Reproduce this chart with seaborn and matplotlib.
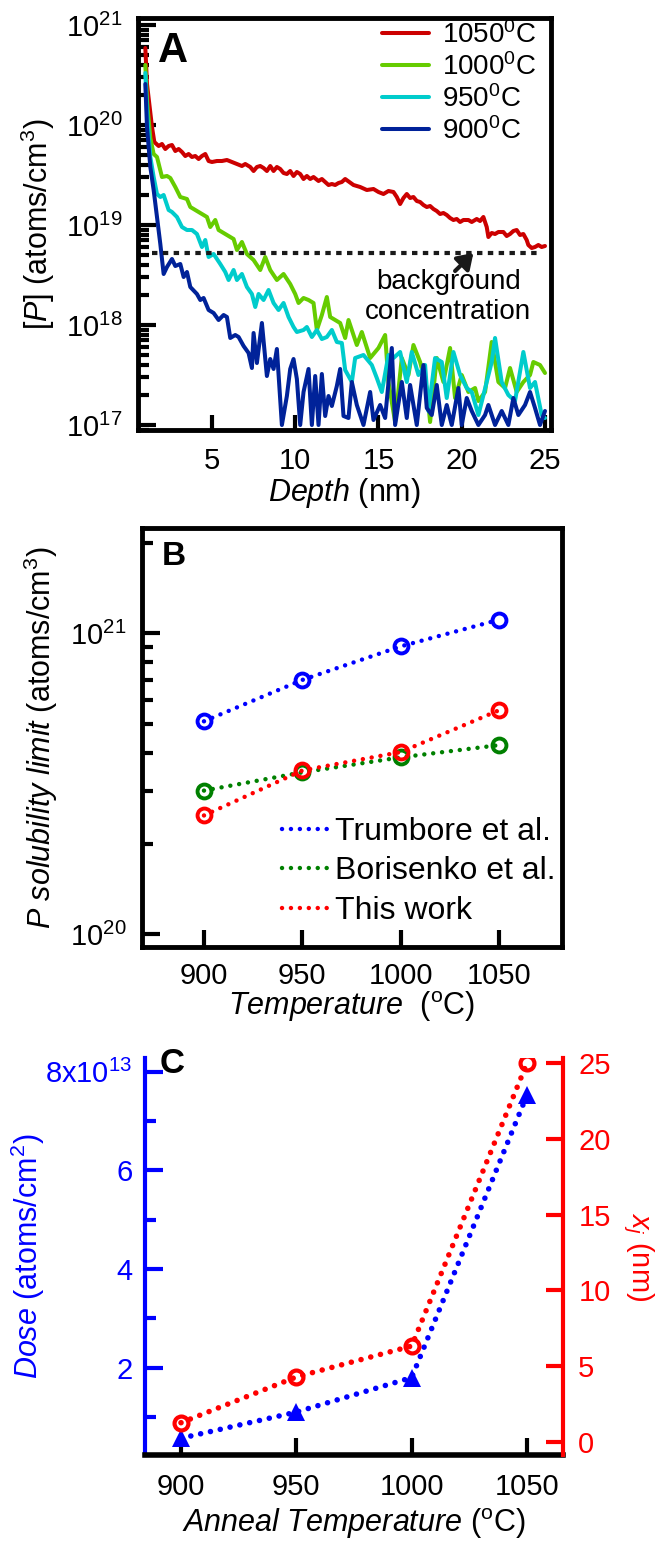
import matplotlib
matplotlib.use('Agg')
import matplotlib.pyplot as plt
from matplotlib.ticker import LogLocator, NullFormatter, NullLocator, FixedLocator, FixedFormatter
import seaborn as sns
import numpy as np

sns.set_theme(style='ticks')
plt.rcParams['font.family'] = ['Liberation Sans', 'DejaVu Sans']
plt.rcParams['mathtext.fontset'] = 'custom'
plt.rcParams['mathtext.rm'] = 'Liberation Sans'
plt.rcParams['mathtext.it'] = 'Liberation Sans:italic'
plt.rcParams['mathtext.bf'] = 'Liberation Sans:bold'
for key in ['text.color', 'axes.labelcolor', 'xtick.color', 'ytick.color', 'axes.edgecolor']:
    plt.rcParams[key] = 'black'

# ---- panel A: SIMS profiles, log10 of [P] (atoms/cm^3) vs depth (nm)
depth_1050 = [1.0, 1.1, 1.4, 1.54, 1.8, 2.0, 2.2, 2.4, 2.6, 2.8, 3.0, 3.2, 3.4, 3.6, 3.8, 4.0, 4.2,
              4.4, 4.6, 4.8, 5.0, 5.3, 5.6, 5.9, 6.2, 6.5, 6.8, 7.0, 7.3, 7.5, 7.7, 7.9, 8.1, 8.3,
              8.5, 8.7, 8.9, 9.1, 9.3, 9.5, 9.7, 9.9, 10.1, 10.3, 10.5, 10.7, 10.9, 11.1, 11.4,
              11.6, 11.8, 12.0, 12.2, 12.4, 12.6, 12.8, 13.0, 13.5, 13.9, 14.3, 14.7, 15.0, 15.3,
              15.6, 15.9, 16.1, 16.3, 16.5, 16.7, 16.9, 17.1, 17.3, 17.5, 17.7, 17.9, 18.1, 18.3,
              18.5, 18.7, 18.9, 19.1, 19.3, 19.5, 19.7, 19.9, 20.1, 20.4, 20.6, 20.9, 21.1, 21.3,
              21.5, 21.6, 21.8, 22.0, 22.2, 22.5, 22.7, 22.9, 23.1, 23.3, 23.5, 23.7, 23.9, 24.0,
              24.2, 24.4, 24.6, 24.8, 25.0]
logP_1050 = [20.77, 20.41, 19.98, 19.83, 19.79, 19.81, 19.76, 19.79, 19.80, 19.74, 19.76, 19.73,
             19.69, 19.71, 19.68, 19.69, 19.66, 19.69, 19.71, 19.64, 19.63, 19.64, 19.64, 19.65,
             19.63, 19.61, 19.59, 19.61, 19.58, 19.54, 19.58, 19.59, 19.57, 19.54, 19.59, 19.54,
             19.58, 19.56, 19.52, 19.51, 19.54, 19.49, 19.53, 19.51, 19.46, 19.49, 19.46, 19.48,
             19.44, 19.46, 19.43, 19.40, 19.41, 19.40, 19.42, 19.43, 19.46, 19.40, 19.38, 19.35,
             19.36, 19.33, 19.31, 19.34, 19.33, 19.28, 19.21, 19.27, 19.31, 19.27, 19.28, 19.24,
             19.23, 19.20, 19.18, 19.19, 19.16, 19.14, 19.11, 19.12, 19.10, 19.07, 19.05, 19.06,
             19.03, 19.05, 19.05, 19.03, 19.06, 19.04, 19.08, 18.98, 18.88, 18.92, 18.91, 18.93,
             18.93, 18.89, 18.91, 18.94, 18.95, 18.90, 18.91, 18.85, 18.80, 18.77, 18.78, 18.80,
             18.78, 18.79]

depth_1000 = [1.0, 1.1, 1.3, 1.5, 1.7, 2.0, 2.3, 2.5, 2.8, 3.1, 3.5, 3.7, 4.0, 4.4, 4.7, 4.9, 5.2,
              5.4, 5.8, 6.3, 6.5, 6.8, 7.1, 7.5, 7.9, 8.2, 8.5, 8.9, 9.3, 9.7, 10.0, 10.2, 10.5,
              10.8, 11.1, 11.3, 11.6, 11.9, 12.1, 12.4, 12.7, 13.0, 13.2, 13.7, 14.0, 14.5, 15.0,
              15.4, 15.6, 16.0, 16.4, 16.8, 17.1, 17.5, 17.9, 18.1, 18.5, 18.9, 19.3, 19.6, 20.0,
              20.4, 20.8, 21.0, 21.4, 21.8, 22.2, 22.6, 22.9, 23.3, 23.7, 24.1, 24.3, 24.7, 25.0]
logP_1000 = [20.60, 20.24, 19.87, 19.71, 19.68, 19.48, 19.49, 19.47, 19.38, 19.28, 19.26, 19.18,
             19.15, 19.11, 19.08, 18.98, 19.05, 18.95, 18.91, 18.86, 18.75, 18.83, 18.71, 18.65,
             18.55, 18.68, 18.55, 18.45, 18.51, 18.41, 18.31, 18.22, 18.27, 18.25, 18.22, 17.95,
             18.10, 18.28, 18.08, 18.05, 18.02, 17.87, 18.05, 17.80, 17.93, 17.67, 17.77, 17.90,
             17.43, 17.03, 17.67, 17.50, 17.80, 17.63, 17.37, 17.03, 17.67, 17.43, 17.77, 17.27,
             17.50, 17.33, 17.37, 17.24, 17.33, 17.83, 17.43, 17.37, 17.57, 17.33, 17.43, 17.50,
             17.63, 17.60, 17.52]

depth_950 = [1.0, 1.1, 1.3, 1.5, 1.7, 1.9, 2.1, 2.4, 2.6, 2.9, 3.2, 3.5, 3.8, 4.1, 4.4, 4.6, 4.8,
             5.1, 5.5, 5.8, 6.0, 6.3, 6.5, 6.8, 7.1, 7.4, 7.6, 7.8, 8.1, 8.4, 8.7, 9.0, 9.3, 9.6,
             9.9, 10.1, 10.5, 10.7, 11.0, 11.3, 11.6, 11.9, 12.2, 12.5, 12.8, 13.0, 13.4, 13.6,
             14.1, 14.6, 14.9, 15.2, 15.6, 15.9, 16.3, 16.7, 17.0, 17.4, 17.8, 18.0, 18.4, 18.8,
             19.1, 19.5, 19.9, 20.3, 20.6, 21.0, 21.5, 21.8, 22.0, 22.4, 22.8, 23.2, 23.7, 24.1,
             24.4, 24.8, 25.0]
logP_950 = [20.52, 20.14, 19.68, 19.48, 19.31, 19.28, 19.30, 19.15, 19.13, 19.08, 18.98, 18.95,
            18.95, 18.91, 18.78, 18.85, 18.68, 18.71, 18.61, 18.53, 18.45, 18.55, 18.45, 18.51,
            18.38, 18.31, 18.18, 18.31, 18.25, 18.35, 18.22, 18.15, 18.22, 18.08, 17.98, 17.93,
            17.95, 17.98, 17.88, 17.95, 17.86, 17.88, 17.95, 17.83, 17.82, 17.55, 17.43, 17.67,
            17.70, 17.60, 17.47, 17.33, 17.70, 17.67, 17.73, 17.43, 17.73, 17.50, 17.60, 17.14,
            17.67, 17.63, 17.27, 17.73, 17.50, 17.37, 17.33, 17.10, 17.43, 17.63, 17.87, 17.43,
            17.30, 17.24, 17.73, 17.37, 17.43, 17.10, 17.07]

depth_900 = [1.0, 1.1, 1.3, 1.5, 1.7, 1.9, 2.1, 2.3, 2.6, 2.8, 3.1, 3.3, 3.5, 3.7, 4.1, 4.3, 4.5,
             4.8, 5.1, 5.4, 5.7, 5.9, 6.1, 6.4, 6.6, 6.9, 7.2, 7.4, 7.5, 7.7, 8.0, 8.3, 8.5, 8.7,
             8.9, 9.2, 9.5, 9.7, 9.9, 10.1, 10.3, 10.5, 10.8, 11.0, 11.2, 11.4, 11.6, 11.8, 12.0,
             12.2, 12.5, 12.7, 12.9, 13.2, 13.4, 13.7, 14.1, 14.5, 14.7, 15.1, 15.4, 15.8, 16.0,
             16.4, 16.7, 16.9, 17.3, 17.7, 17.9, 18.2, 18.5, 18.8, 19.1, 19.4, 19.8, 20.0, 20.3,
             20.6, 21.0, 21.4, 21.6, 22.0, 22.4, 22.8, 23.1, 23.4, 23.8, 24.1, 24.4, 24.7, 25.0]
logP_900 = [20.41, 19.98, 19.58, 19.35, 19.08, 18.81, 18.51, 18.58, 18.66, 18.59, 18.61, 18.48,
            18.53, 18.38, 18.31, 18.25, 18.27, 18.15, 18.12, 18.05, 18.10, 18.08, 17.87, 17.90,
            17.88, 17.79, 17.72, 17.57, 17.92, 17.62, 18.02, 17.49, 17.66, 17.56, 17.76, 17.00,
            17.29, 17.56, 17.66, 17.46, 17.00, 17.33, 17.56, 17.00, 17.49, 17.00, 17.51, 17.09,
            17.29, 17.19, 17.39, 17.56, 17.09, 17.07, 17.43, 17.20, 17.00, 17.33, 17.05, 17.20,
            17.07, 17.77, 17.00, 17.43, 17.07, 17.40, 17.00, 17.60, 17.17, 17.10, 17.40, 17.00,
            17.20, 17.00, 17.37, 17.00, 17.27, 17.14, 17.00, 17.10, 17.20, 17.00, 17.14, 17.00,
            17.27, 17.10, 17.20, 17.33, 17.17, 17.00, 17.14]

anneal_labels = ['1050$^0$C', '1000$^0$C', '950$^0$C', '900$^0$C']
anneal_colors = ['#CC0000', '#66CC00', '#00CCCC', '#002299']
background_depth = [1.4, 24.7]
background_level = 5.2e18

# ---- panel B: solubility limit (atoms/cm^3)
temp_b = [900, 950, 1000, 1050]
trumbore = [5.1e20, 7.0e20, 9.05e20, 1.11e21]
borisenko = [3.0e20, 3.45e20, 3.87e20, 4.25e20]
this_work = [2.48e20, 3.5e20, 4.03e20, 5.55e20]
ref_labels = ['Trumbore et al.', 'Borisenko et al.', 'This work']
ref_colors = ['#0000FF', '#008000', '#FF0000']

# ---- panel C: dose (1e13 atoms/cm^2) and junction depth (nm)
anneal_temp = [900, 950, 1000, 1050]
dose_1e13 = [0.57, 1.1, 1.8, 7.53]
xj_nm = [1.27, 4.29, 6.33, 25.0]

W, H = 657, 1543
fig = plt.figure(figsize=(W / 100, H / 100), dpi=100)


def box(l, t, r, b):
    return [l / W, 1 - b / H, (r - l) / W, (b - t) / H]


TICK = 21
LAB = 22
dot_b = (0, (0.01, 2.0))
dot_c = (0, (0.01, 1.8))

# ================= A
axA = fig.add_axes(box(138, 18, 551, 430))
curves = [(depth_1050, logP_1050), (depth_1000, logP_1000), (depth_950, logP_950), (depth_900, logP_900)]
for (d, lp), lab, col in zip(curves, anneal_labels, anneal_colors):
    sns.lineplot(x=d, y=10 ** np.array(lp), color=col, lw=2.9, sort=False, estimator=None,
                 label=lab, ax=axA, legend=False)
sns.lineplot(x=background_depth, y=[background_level] * 2, color='k', lw=3,
             linestyle=(0, (1.3, 1.3)), ax=axA, legend=False)
axA.set_yscale('log')
axA.set_xlim(0.56, 25.36)
axA.set_ylim(10 ** 16.95, 10 ** 21.07)
axA.set_xticks([5, 10, 15, 20, 25])
axA.xaxis.set_minor_locator(NullLocator())
axA.yaxis.set_major_locator(LogLocator(base=10, numticks=10))
axA.yaxis.set_minor_locator(LogLocator(base=10, subs=np.arange(2, 10) * 1.0, numticks=100))
axA.yaxis.set_minor_formatter(NullFormatter())
axA.annotate('', xy=(20.7, 10 ** 18.72), xytext=(19.6, 10 ** 18.54),
             arrowprops=dict(arrowstyle='-|>,head_length=0.45,head_width=0.3', color='k', lw=3,
                             mutation_scale=20, shrinkA=0, shrinkB=0))
axA.text(19.2, 10 ** 18.28, 'background\nconcentration', ha='center', va='center', fontsize=20)
axA.legend(loc='upper left', bbox_to_anchor=((382 - 138) / 413, 1 - 3 / 412), frameon=False,
           fontsize=20, handlelength=1.7, handletextpad=0.45, labelspacing=0.15,
           borderpad=0, borderaxespad=0)
axA.set_xlabel(r'$\mathit{Depth}$ (nm)', fontsize=LAB)
axA.set_ylabel(r'$\mathit{[P]}$ (atoms/cm$^3$)', fontsize=LAB)
axA.xaxis.set_label_coords(0.5, -0.112)
axA.yaxis.set_label_coords(-0.196, 0.5)
axA.tick_params(which='both', direction='in', width=3, top=False, right=False, labelsize=TICK)
axA.tick_params(axis='y', which='major', length=13, pad=11)
axA.tick_params(axis='y', which='minor', length=8)
axA.tick_params(axis='x', which='major', length=11, pad=12)
for sp in axA.spines.values():
    sp.set_linewidth(3.5)
fig.text(158 / W, 1 - 62 / H, 'A', fontsize=30, fontweight='bold', ha='left', va='baseline')

# ================= B
axB = fig.add_axes(box(142, 528, 562, 947))
for vals, lab, col in zip([trumbore, borisenko, this_work], ref_labels, ref_colors):
    sns.lineplot(x=temp_b, y=vals, color=col, lw=3.2, linestyle=dot_b, dash_capstyle='round',
                 label=lab, ax=axB, legend=False)
    sns.lineplot(x=temp_b, y=vals, color=col, marker='o', ms=10, mfc='none', mec=col, mew=2.8,
                 linestyle='none', ax=axB, legend=False)
axB.set_yscale('log')
axB.set_xlim(868.5, 1082)
axB.set_ylim(9.06e19, 2.24e21)
axB.set_xticks(temp_b)
axB.xaxis.set_minor_locator(NullLocator())
axB.yaxis.set_major_locator(LogLocator(base=10, numticks=10))
axB.yaxis.set_minor_locator(LogLocator(base=10, subs=np.arange(2, 10) * 1.0, numticks=100))
axB.yaxis.set_minor_formatter(NullFormatter())
axB.legend(loc='lower left', bbox_to_anchor=((282 - 142) / 420, (947 - 926) / 419), frameon=False,
           fontsize=23, handlelength=1.45, handletextpad=0.2, labelspacing=0.3,
           borderpad=0, borderaxespad=0)
axB.set_xlabel(r'$\mathit{Temperature}$  ($^{\mathrm{o}}$C)', fontsize=LAB)
axB.set_ylabel(r'$\mathit{P\ solubility\ limit}$ (atoms/cm$^3$)', fontsize=LAB)
axB.xaxis.set_label_coords(0.5, -0.10)
axB.yaxis.set_label_coords(-0.195, 0.5)
axB.tick_params(which='both', direction='in', width=3, top=False, right=False, labelsize=TICK)
axB.tick_params(axis='y', which='major', length=13, pad=11)
axB.tick_params(axis='y', which='minor', length=8)
axB.tick_params(axis='x', which='major', length=12, pad=11)
for sp in axB.spines.values():
    sp.set_linewidth(3.5)
fig.text(162 / W, 1 - 565 / H, 'B', fontsize=24, fontweight='bold', ha='left', va='baseline')

# ================= C
axC = fig.add_axes(box(145, 1058, 563, 1455))
axC2 = axC.twinx()
blue, red = '#0000FF', '#FF0000'
sns.lineplot(x=anneal_temp, y=dose_1e13, color=blue, lw=4, linestyle=dot_c, dash_capstyle='round',
             ax=axC, legend=False)
sns.lineplot(x=anneal_temp, y=dose_1e13, color=blue, marker='^', ms=13, mec=blue, mew=0,
             linestyle='none', ax=axC, legend=False)
sns.lineplot(x=anneal_temp, y=xj_nm, color=red, lw=4, linestyle=dot_c, dash_capstyle='round',
             ax=axC2, legend=False)
sns.lineplot(x=anneal_temp, y=xj_nm, color=red, marker='o', ms=10, mfc='none', mec=red, mew=3,
             linestyle='none', ax=axC2, legend=False)
axC.set_xlim(884.4, 1065.6)
axC.set_ylim(0.23, 8.28)
axC2.set_ylim(-0.86, 25.33)
axC.set_xticks(anneal_temp)
axC.xaxis.set_minor_locator(NullLocator())
axC.yaxis.set_major_locator(FixedLocator([2, 4, 6, 8]))
axC.yaxis.set_major_formatter(FixedFormatter(['2', '4', '6', '8x10$^{13}$']))
axC.yaxis.set_minor_locator(FixedLocator([1, 3, 5, 7]))
axC2.yaxis.set_major_locator(FixedLocator([0, 5, 10, 15, 20, 25]))
axC2.yaxis.set_minor_locator(NullLocator())
axC.spines['top'].set_visible(False)
axC.spines['right'].set_visible(False)
axC.spines['left'].set_color(blue)
axC.spines['left'].set_linewidth(3)
axC.spines['bottom'].set_linewidth(4)
for s in ['top', 'left', 'bottom']:
    axC2.spines[s].set_visible(False)
axC2.spines['right'].set_color(red)
axC2.spines['right'].set_linewidth(3)
axC.tick_params(axis='x', which='major', direction='in', length=12, width=3, pad=13,
                labelsize=TICK, top=False)
axC.tick_params(axis='y', which='both', direction='in', width=3, color=blue, labelcolor=blue,
                labelsize=TICK, pad=9, right=False)
axC.tick_params(axis='y', which='major', length=13)
axC.tick_params(axis='y', which='minor', length=8)
axC2.tick_params(axis='y', which='major', direction='in', length=12, width=3, color=red,
                 labelcolor=red, labelsize=TICK, pad=11)
axC.set_xlabel(r'$\mathit{Anneal}$ $\mathit{Temperature}$ ($^{\mathrm{o}}$C)', fontsize=LAB)
axC.set_ylabel(r'$\mathit{Dose}$ (atoms/cm$^2$)', fontsize=LAB, color=blue)
axC2.set_ylabel(r'$x_j$ (nm)', fontsize=21, color=red, rotation=270, va='bottom')
axC.xaxis.set_label_coords(0.5, -0.128)
axC.yaxis.set_label_coords(-0.234, 0.5)
axC2.yaxis.set_label_coords(1.138, 0.5)
fig.text(160 / W, 1 - 1073 / H, 'C', fontsize=25, fontweight='bold', ha='left', va='baseline')

fig.savefig('out.png', dpi=100)
